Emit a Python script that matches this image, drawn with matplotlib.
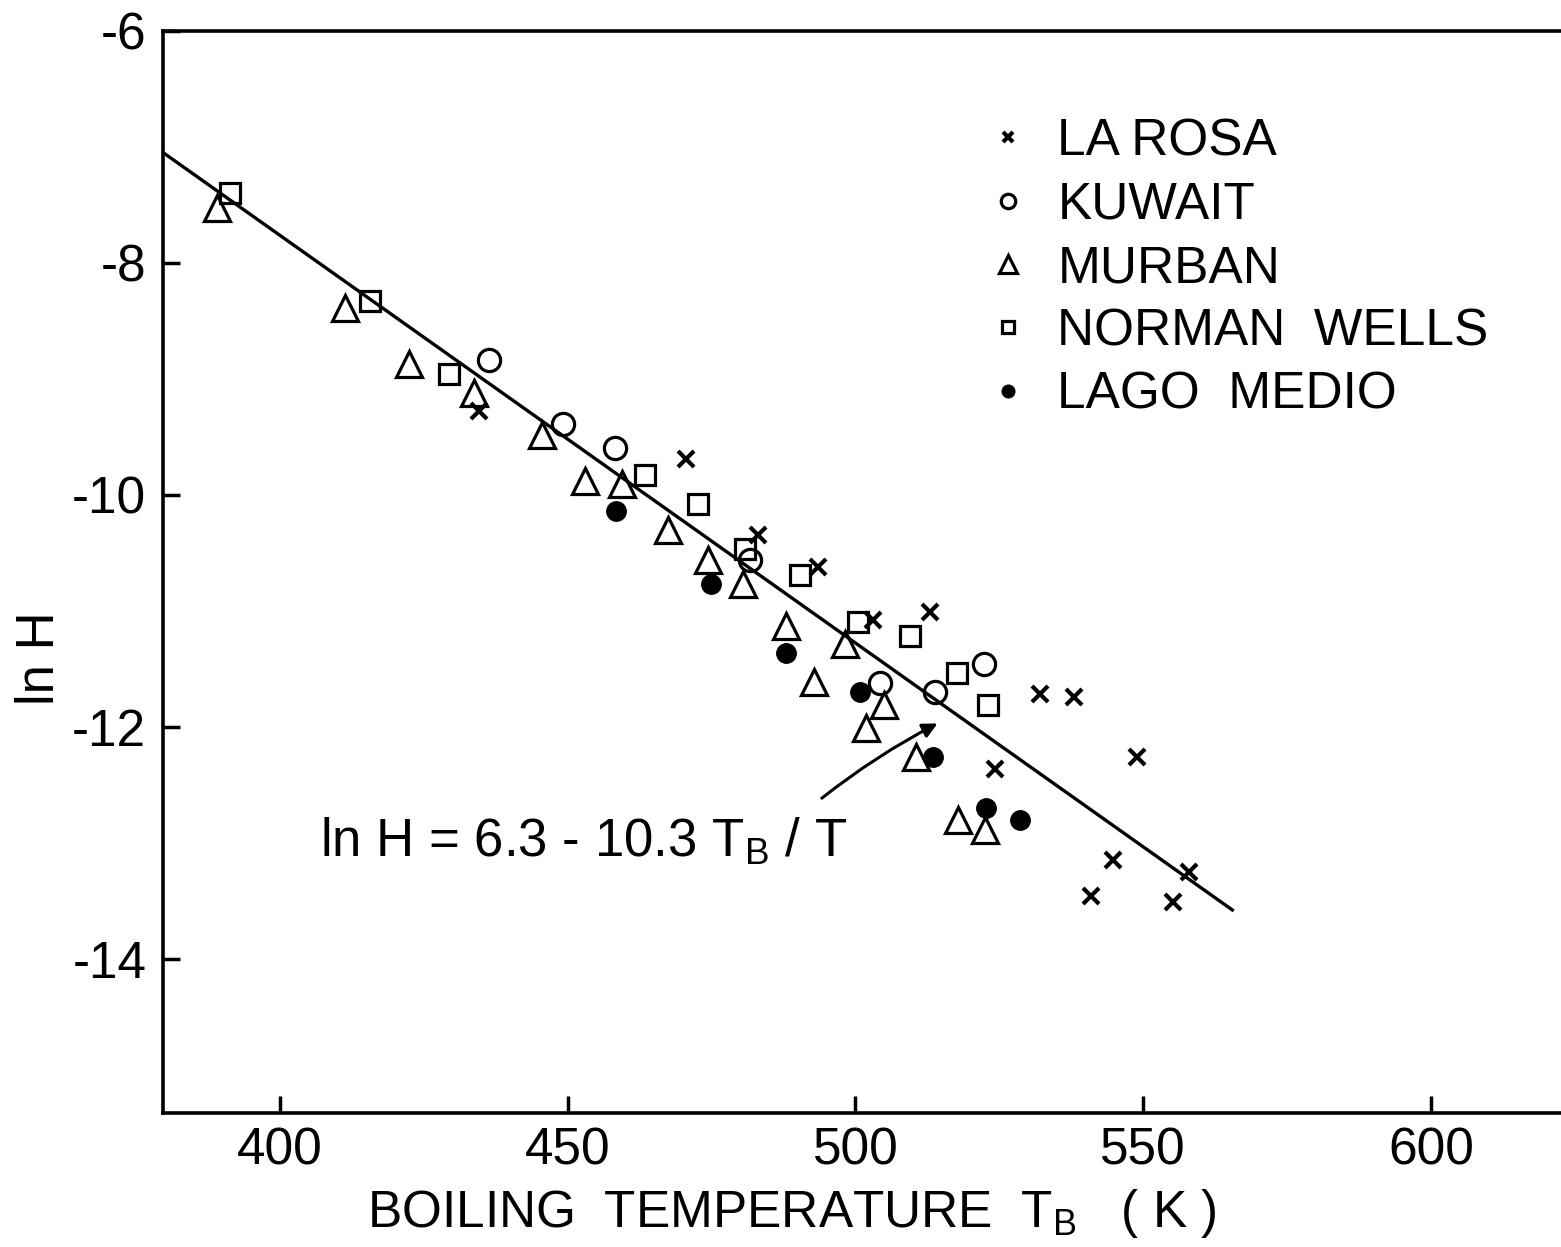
import matplotlib
matplotlib.use("Agg")
import matplotlib.pyplot as plt
import numpy as np

plt.rcParams['font.family'] = ['Liberation Sans', 'DejaVu Sans']
plt.rcParams['mathtext.fontset'] = 'custom'
plt.rcParams['mathtext.rm'] = 'Liberation Sans'

# ---- data ----
larosa_T = [434.6, 470.5, 483.1, 493.5, 503.0, 512.9, 532.1, 537.9, 549.0, 524.2, 544.8, 541.0, 558.0, 555.2]
larosa_lnH = [-9.28, -9.69, -10.35, -10.62, -11.08, -11.01, -11.72, -11.74, -12.26, -12.36, -13.15, -13.46, -13.25, -13.51]

kuwait_T = [436.3, 449.2, 458.2, 481.7, 504.3, 513.8, 522.4]
kuwait_lnH = [-8.84, -9.39, -9.60, -10.56, -11.62, -11.70, -11.46]

murban_T = [389.0, 411.3, 422.5, 433.8, 445.6, 453.0, 459.5, 467.5, 474.4, 480.5, 488.0, 498.2,
            492.8, 505.0, 501.9, 510.6, 517.9, 522.5]
murban_lnH = [-7.53, -8.39, -8.87, -9.12, -9.48, -9.88, -9.91, -10.30, -10.56, -10.77, -11.13, -11.29,
              -11.61, -11.81, -12.01, -12.26, -12.80, -12.89]

norman_T = [391.4, 415.6, 429.4, 463.5, 472.7, 480.8, 490.4, 500.5, 509.5, 517.6, 523.1]
norman_lnH = [-7.40, -8.33, -8.96, -9.83, -10.08, -10.47, -10.69, -11.10, -11.22, -11.54, -11.81]

lago_T = [458.4, 474.9, 487.9, 500.8, 513.5, 522.7, 528.6]
lago_lnH = [-10.14, -10.77, -11.36, -11.70, -12.26, -12.70, -12.80]

# fitted line lnH = 6.3 - 10.3 * TB / T  (T ~ 293 K)
fit_TB = np.array([379.7, 565.5])
fit_a, fit_b, fit_T = 6.3, 10.3, 293.0
fit_lnH = fit_a - fit_b * fit_TB / fit_T

xticks = [400, 450, 500, 550, 600]
xticklabels = ['400', '450', '500', '550', '600']
yticks = [-6, -8, -10, -12, -14]
yticklabels = ['-6', '-8', '-10', '-12', '-14']

series_labels = ['LA ROSA', 'KUWAIT', 'MURBAN', 'NORMAN  WELLS', 'LAGO  MEDIO']

# ---- figure ----
fig = plt.figure(figsize=(15.61, 12.47), dpi=100)
ax = fig.add_axes([163/1561, 1 - 1113/1247, 1 - 163/1561, (1113 - 31)/1247])

ew = 2.3
ax.plot(fit_TB, fit_lnH, color='black', lw=2.4, zorder=1)
h1, = ax.plot(larosa_T, larosa_lnH, ls='none', marker='x', ms=12, mew=3.0, color='black', label=series_labels[0])
h2, = ax.plot(kuwait_T, kuwait_lnH, ls='none', marker='o', ms=16, mew=ew, mfc='none', mec='black', label=series_labels[1])
h3, = ax.plot(murban_T, murban_lnH, ls='none', marker='^', ms=19, mew=ew, mfc='none', mec='black', label=series_labels[2])
h4, = ax.plot(norman_T, norman_lnH, ls='none', marker='s', ms=14, mew=ew, mfc='none', mec='black', label=series_labels[3])
h5, = ax.plot(lago_T, lago_lnH, ls='none', marker='o', ms=14, mew=1, mfc='black', mec='black', label=series_labels[4])

ax.set_xlim(379.7, 622.6)
ax.set_ylim(-15.33, -6.0)
ax.set_xticks(xticks)
ax.set_xticklabels(xticklabels)
ax.set_yticks(yticks)
ax.set_yticklabels(yticklabels)
ax.tick_params(direction='in', length=12, width=2.5, labelsize=37, pad=10)
ax.tick_params(axis='y', pad=12)

for s in ['left', 'bottom', 'top']:
    ax.spines[s].set_linewidth(2.6)
ax.spines['right'].set_visible(False)

ax.set_xlabel(r'BOILING  TEMPERATURE  T$_\mathregular{B}$   ( K )', fontsize=37)
ax.xaxis.set_label_coords(0.45, -0.068)
ax.set_ylabel('ln H', fontsize=38)
ax.yaxis.set_label_coords(-0.088, 0.42)
ax.yaxis.label.set_va('center')

ax.annotate('', xy=(514.7, -11.96), xytext=(493.8, -12.63),
            arrowprops=dict(arrowstyle='-|>', lw=2.2, mutation_scale=22, color='black',
                            connectionstyle='arc3,rad=-0.05'))
ax.text(407.0, -13.12, r'ln H = 6.3 - 10.3 T$_\mathregular{B}$ / T', fontsize=38, va='baseline', ha='left')

leg = ax.legend(handles=[h1, h2, h3, h4, h5], loc='upper left', bbox_to_anchor=(0.568, 0.944),
                frameon=False, fontsize=37, markerscale=0.65, handlelength=1.0,
                handletextpad=0.45, labelspacing=0.28, borderpad=0)

fig.savefig('out.png', dpi=100)
